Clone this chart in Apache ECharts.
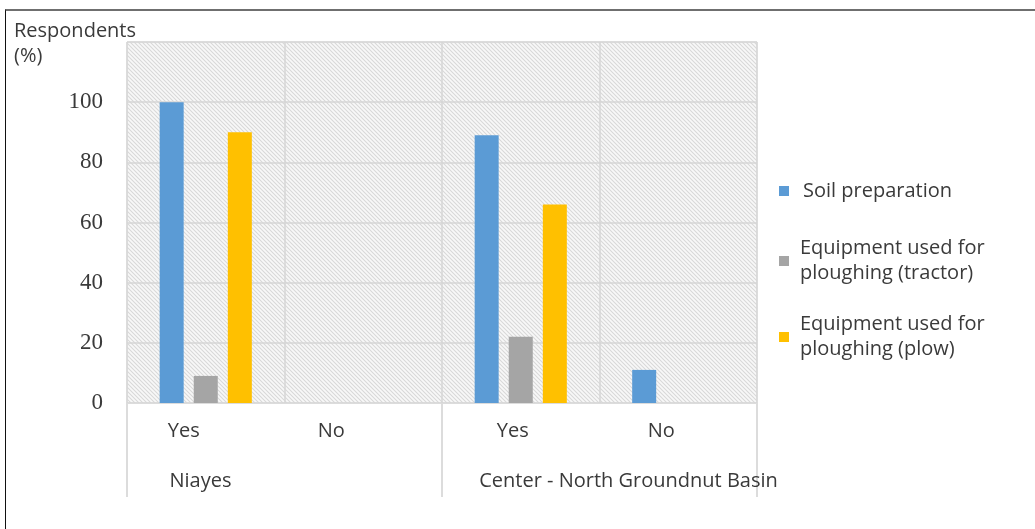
<!DOCTYPE html>
<html>
<head>
<meta charset="utf-8">
<script src="https://cdn.jsdelivr.net/npm/echarts@6/dist/echarts.min.js"></script>
<style>
  html, body { margin: 0; padding: 0; background: #fff; }
  #wrap { position: relative; width: 1035px; height: 529px; overflow: hidden; }
  #frame { position: absolute; left: 5px; top: 9px; width: 1040px; height: 540px;
           border-top: 2px solid #6f6f6f; border-left: 1px solid #111; pointer-events: none; z-index: 2; }
  #chart { position: absolute; left: 0; top: 0; width: 1035px; height: 529px; }
</style>
</head>
<body>
<div id="wrap">
  <div id="chart"></div>
  <div id="frame"></div>
</div>
<script>
// Sub-categories (answer) and the regions they belong to
const answers = ['Yes', 'No', 'Yes', 'No'];
const regions = ['Niayes', 'Center - North Groundnut Basin'];

// Share of respondents (%) per answer
const seriesNames = [
  'Soil preparation',
  'Equipment used for ploughing (tractor)',
  'Equipment used for ploughing (plow)'
];
const soilPreparation = [100, 0, 89, 11];
const tractorUse = [9, 0, 22, 0];
const plowUse = [90, 0, 66, 0];

const yTicks = [0, 20, 40, 60, 80, 100];

const colors = ['#5B9BD5', '#A5A5A5', '#FFC000'];
const sans = '"Open Sans", "Noto Sans", sans-serif';
const textColor = '#3a3a3a';
const fontSize = 20;

// Light diagonal hatch used as the plot background
function hatch() {
  const n = 4;
  const c = document.createElement('canvas');
  c.width = n; c.height = n;
  const g = c.getContext('2d');
  g.fillStyle = '#f8f8f8';
  g.fillRect(0, 0, n, n);
  g.strokeStyle = '#d8d8d8';
  g.lineWidth = 1.1;
  [[0, 0, n, n], [n, 0, 2 * n, n], [-n, 0, 0, n], [0, n, n, 2 * n], [0, -n, n, 0]].forEach(function (l) {
    g.beginPath(); g.moveTo(l[0], l[1]); g.lineTo(l[2], l[3]); g.stroke();
  });
  return c;
}

// Per-label nudges for the category texts
const answerShift = [-22, -32, -8, -17];
function shifted(label, dx) {
  const pad = Math.abs(dx) * 2;
  return { value: label, textStyle: { padding: dx < 0 ? [0, pad, 0, 0] : [0, 0, 0, pad] } };
}
const regionShift = [-84, 29];

const chart = echarts.init(document.getElementById('chart'), null, { renderer: 'canvas' });

const seriesData = [soilPreparation, tractorUse, plowUse];

chart.setOption({
  animation: false,
  backgroundColor: '#fff',
  title: {
    text: 'Respondents\n(%)',
    left: 9,
    top: 14,
    textStyle: { fontFamily: sans, fontSize: fontSize, fontWeight: 'normal', color: textColor, lineHeight: 25 }
  },
  grid: {
    left: 127, right: 278, top: 42, bottom: 126,
    show: true,
    backgroundColor: { image: hatch(), repeat: 'repeat' },
    borderColor: '#dcdcdc',
    borderWidth: 1
  },
  legend: {
    orient: 'vertical',
    left: 774,
    top: 167,
    itemWidth: 10,
    itemHeight: 10,
    itemGap: 26,
    icon: 'rect',
    data: seriesNames.map(function (n, i) {
      return i === 0 ? { name: n, textStyle: { padding: [0, 0, 13, 9] } } : n;
    }),
    formatter: function (name) { return name.replace(' for ', ' for\n'); },
    textStyle: { fontFamily: sans, fontSize: fontSize, color: textColor, lineHeight: 25, padding: [0, 0, 0, 6] }
  },
  xAxis: [
    {
      type: 'category',
      gridIndex: 0,
      data: answers.map(function (a, i) { return shifted(a, answerShift[i]); }),
      axisLine: { show: true, lineStyle: { color: '#dcdcdc', width: 1 } },
      axisTick: { show: false },
      splitLine: { show: true, interval: 0, lineStyle: { color: '#d6d6d6', width: 1.5 } },
      axisLabel: { interval: 0, margin: 18, fontFamily: sans, fontSize: fontSize, color: textColor }
    },
    {
      type: 'category',
      gridIndex: 0,
      position: 'bottom',
      data: regions.map(function (r, i) { return shifted(r, regionShift[i]); }),
      axisLine: { show: false },
      axisTick: { show: true, interval: 0, length: 94, lineStyle: { color: '#dcdcdc', width: 2 } },
      splitLine: { show: false },
      axisLabel: { interval: 0, margin: 68, fontFamily: sans, fontSize: fontSize, color: textColor }
    }
  ],
  yAxis: {
    type: 'value',
    min: 0,
    max: 120,
    interval: 20,
    axisLine: { show: false },
    axisTick: { show: false },
    splitLine: { show: true, lineStyle: { color: '#d6d6d6', width: 1.5 } },
    axisLabel: {
      margin: 24,
      fontFamily: '"Liberation Serif", "DejaVu Serif", serif',
      fontSize: 23,
      color: textColor,
      formatter: function (v) { return yTicks.indexOf(v) >= 0 ? String(v) : ''; }
    }
  },
  series: seriesNames.map(function (name, i) {
    return {
      name: name,
      type: 'bar',
      xAxisIndex: 0,
      barWidth: 24,
      barGap: '42%',
      itemStyle: { color: colors[i] },
      data: seriesData[i]
    };
  })
});
</script>
</body>
</html>
